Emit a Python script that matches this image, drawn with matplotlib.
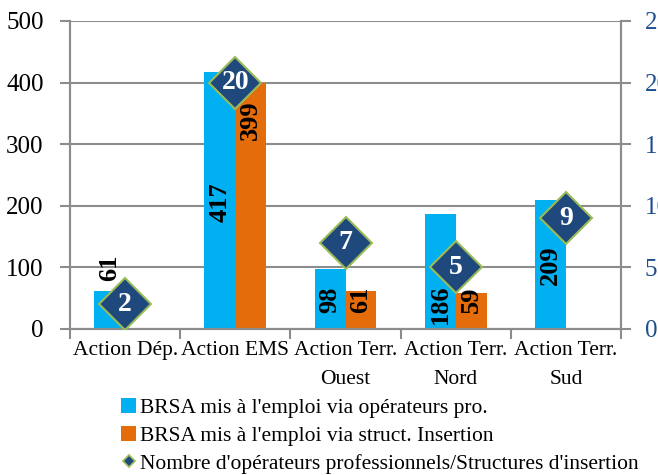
import numpy as np
import matplotlib.pyplot as plt
from matplotlib.patches import Patch
from matplotlib.lines import Line2D

categories = ['Action Dép.', 'Action EMS', 'Action Terr.\nOuest', 'Action Terr.\nNord', 'Action Terr.\nSud']
operateurs_pro = [61, 417, 98, 186, 209]
struct_insertion = [np.nan, 399, 61, 59, np.nan]
nb_structures = [2, 20, 7, 5, 9]

# where the value labels sit (data units, left axis)
pos_pro = [99, 206, 47, 40, 104]
pos_ins = [None, 339, 47, 47, None]

plt.rcParams['font.family'] = ['Liberation Serif', 'DejaVu Serif']

blue = '#00B0F0'
orange = '#E46C0A'
navy = '#1F497D'
green = '#9BBB59'
gray = '#8C8C8C'

fig = plt.figure(figsize=(6.58, 4.75), dpi=100)
ax = fig.add_axes([0.1064, 0.3074, 0.8374, 0.6484])
ax2 = ax.twinx()

X = np.arange(len(categories))
w = 0.28
ax.bar(X - w / 2, operateurs_pro, w, color=blue, zorder=2)
ax.bar(X + w / 2, struct_insertion, w, color=orange, zorder=2)

for x, y in zip(X, pos_pro):
    ax.text(x - w / 2, y, '%d' % operateurs_pro[x], rotation=90, ha='center', va='center',
            fontsize=19, fontweight='bold', zorder=3)
for x, y in zip(X, pos_ins):
    if y is None:
        continue
    ax.text(x + w / 2, y, '%d' % struct_insertion[x], rotation=90, ha='center', va='center',
            fontsize=19, fontweight='bold', zorder=3)

ax2.plot(X, nb_structures, linestyle='none', marker='D', markersize=26,
         markerfacecolor=navy, markeredgecolor=green, markeredgewidth=1.5, zorder=4)
for x, n in zip(X, nb_structures):
    ax2.text(x, n, str(n), ha='center', va='center', color='white',
             fontsize=20, fontweight='bold', zorder=5)

ax.set_xlim(-0.5, len(categories) - 0.5)
ax.set_ylim(0, 500)
ax2.set_ylim(0, 25)
ax.set_yticks(range(0, 501, 100))
ax2.set_yticks(range(0, 26, 5))

ax.set_xticks(X)
ax.set_xticklabels(categories, fontsize=15.5, linespacing=1.7)
ax.set_xticks(np.arange(-0.5, len(categories), 1), minor=True)
ax.tick_params(axis='x', which='major', length=0, pad=9)
ax.tick_params(axis='x', which='minor', length=7, width=1.5, color=gray)
ax.tick_params(axis='y', labelsize=18, length=7, width=1.5, color=gray, pad=12)
ax2.tick_params(axis='y', labelsize=18, length=7, width=1.5, color=gray,
                labelcolor='#1F4E8C', pad=10)

ax.grid(axis='y', color=gray, linewidth=1.5, zorder=0)
ax.set_axisbelow(True)
for a in (ax, ax2):
    a.spines['top'].set_visible(False)
    for s in ('left', 'right', 'bottom'):
        a.spines[s].set_color(gray)
        a.spines[s].set_linewidth(1.5)

handles = [
    Patch(facecolor=blue, label="BRSA mis à l'emploi via opérateurs pro."),
    Patch(facecolor=orange, label="BRSA mis à l'emploi via struct. Insertion"),
    Line2D([], [], linestyle='none', marker='D', markersize=6, markerfacecolor=navy,
           markeredgecolor=green, markeredgewidth=1.2,
           label="Nombre d'opérateurs professionnels/Structures d'insertion"),
]
fig.legend(handles=handles, loc='upper left', bbox_to_anchor=(0.184, 0.162),
           frameon=False, fontsize=15.5, handlelength=0.7, handleheight=0.7,
           handletextpad=0.2, labelspacing=0.36, borderpad=0, borderaxespad=0)

fig.savefig('out.png', dpi=100)
